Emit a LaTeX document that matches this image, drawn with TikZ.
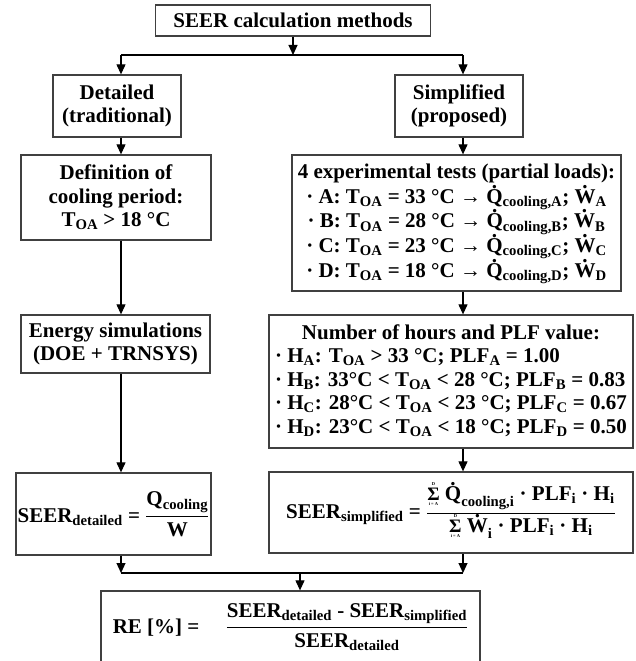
\documentclass[tikz,border=0pt]{standalone}
\usepackage{amsmath}
\usepackage{fontspec}
\setmainfont{Liberation Serif}
\usetikzlibrary{arrows.meta,calc}
\newcommand\sbs[1]{\textsubscript{#1}}
\newcommand\dt[1]{\leavevmode\ooalign{#1\cr\hidewidth\raisebox{0.72em}{.}\hidewidth\cr}}
\newcommand\tsum{\leavevmode\ooalign{{\fontsize{19}{19}\selectfont Σ}\cr
  \hidewidth\raisebox{15pt}{\fontsize{4.5}{5}\selectfont D}\hidewidth\cr
  \hidewidth\raisebox{-5pt}{\fontsize{4.5}{5}\selectfont i = A}\hidewidth\cr}}
\begin{document}
\begin{tikzpicture}[x=1pt,y=-1pt,
  box/.style={draw=black!75, line width=1.3pt, inner sep=0pt, align=center,
    font=\fontsize{21}{23.5}\selectfont\bfseries},
  conn/.style={line width=1.1pt, draw=black},
  arr/.style={conn, -{Triangle[width=9pt,length=10pt]}}]
\useasboundingbox (0,0) rectangle (636,661);
% nodes
\node[box, minimum width=275pt, minimum height=31pt] (title) at (293,20.5) {SEER calculation methods};
\node[box, minimum width=128pt, minimum height=62pt] (det) at (117,106) {Detailed\\(traditional)};
\node[box, minimum width=128pt, minimum height=62pt] (simp) at (459,106) {Simplified\\(proposed)};
\node[box, minimum width=190pt, minimum height=85pt] (def) at (116,197.5) {Definition of\\cooling period:\\T\sbs{OA} \textgreater{} 18 °C};
\node[box, minimum width=329pt, minimum height=136pt] (tests) at (456.5,223) {%
  \renewcommand\arraystretch{1.05}%
  \begin{tabular}{@{}c@{}}
  4 experimental tests (partial loads):\\
  · A: T\sbs{OA} = 33 °C → \dt{Q}\sbs{cooling,A}; \dt{W}\sbs{A}\\
  · B: T\sbs{OA} = 28 °C → \dt{Q}\sbs{cooling,B}; \dt{W}\sbs{B}\\
  · C: T\sbs{OA} = 23 °C → \dt{Q}\sbs{cooling,C}; \dt{W}\sbs{C}\\
  · D: T\sbs{OA} = 18 °C → \dt{Q}\sbs{cooling,D}; \dt{W}\sbs{D}
  \end{tabular}};
\node[box, minimum width=189pt, minimum height=58pt] (energy) at (115.5,344) {Energy simulations\\(DOE + TRNSYS)};
\node[box, minimum width=364pt, minimum height=133pt] (number) at (451,381.5) {%
  \begin{tabular}{@{}l@{}}
  \multicolumn{1}{@{}c@{}}{Number of hours and PLF value:}\\
  · H\sbs{A}: T\sbs{OA} \textgreater{} 33 °C; PLF\sbs{A} = 1.00\\
  · H\sbs{B}: 33°C \textless{} T\sbs{OA} \textless{} 28 °C; PLF\sbs{B} = 0.83\\
  · H\sbs{C}: 28°C \textless{} T\sbs{OA} \textless{} 23 °C; PLF\sbs{C} = 0.67\\
  · H\sbs{D}: 23°C \textless{} T\sbs{OA} \textless{} 18 °C; PLF\sbs{D} = 0.50
  \end{tabular}};
\node[box, minimum width=195pt, minimum height=82pt] (seerdet) at (113.5,514) {%
  $\text{SEER}_{\text{detailed}}\text{ = }\genfrac{}{}{1.2pt}{0}{\text{Q}_{\text{cooling}}}{\text{W}}$};
\node[box, minimum width=364pt, minimum height=81pt] (seersimp) at (451,512.5) {%
  $\text{SEER}_{\text{simplified}}\text{ = }\genfrac{}{}{1.2pt}{0}
   {\text{\tsum\ \dt{Q}}_{\text{cooling,i}}\text{ · PLF}_{\text{i}}\text{ · H}_{\text{i}}}
   {\text{\tsum\ \dt{W}}_{\text{i}}\text{ · PLF}_{\text{i}}\text{ · H}_{\text{i}}}$};
\node[box, minimum width=379pt, minimum height=72pt] (re) at (290.5,627) {%
  $\text{RE [\%] = }\quad\genfrac{}{}{1.2pt}{0}{\text{SEER}_{\text{detailed}}\text{ - SEER}_{\text{simplified}}}{\text{SEER}_{\text{detailed}}}$};
% connector coordinates
\coordinate (cL) at (121,0);
\coordinate (cR) at (463,0);
\coordinate (bt) at (293,55);
\coordinate (bb) at (300,573);
% top branching
\draw[arr] (title.south) -- (bt);
\draw[conn] (cL |- bt) -- (cR |- bt);
\draw[arr] (cL |- bt) -- (cL |- det.north);
\draw[arr] (cR |- bt) -- (cR |- simp.north);
% columns
\draw[arr] (cL |- det.south) -- (cL |- def.north);
\draw[arr] (cR |- simp.south) -- (cR |- tests.north);
\draw[arr] (cL |- def.south) -- (cL |- energy.north);
\draw[arr] (cR |- tests.south) -- (cR |- number.north);
\draw[arr] (cL |- energy.south) -- (cL |- seerdet.north);
\draw[arr] (cR |- number.south) -- (cR |- seersimp.north);
% bottom merging
\draw[arr] (cL |- seerdet.south) -- (cL |- bb);
\draw[arr] (cR |- seersimp.south) -- (cR |- bb);
\draw[conn] (cL |- bb) -- (cR |- bb);
\draw[arr] (bb) -- (re.north -| bb);
\end{tikzpicture}
\end{document}
